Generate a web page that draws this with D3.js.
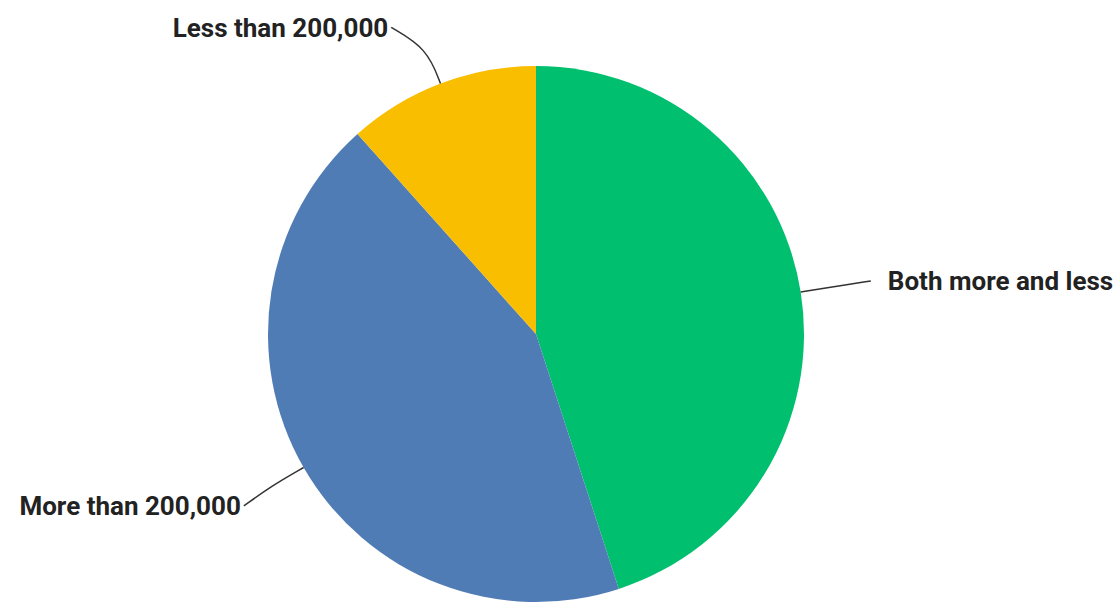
<!DOCTYPE html>
<html><head><meta charset="utf-8">
<script src="https://cdn.jsdelivr.net/npm/d3@7"></script>
<style>html,body{margin:0;padding:0;background:#fff;} svg{display:block;}</style>
</head><body>
<svg id="chart" width="1119" height="604"></svg>
<script>
const categories = ["Both more and less", "More than 200,000", "Less than 200,000"];
const values = [45.0, 43.4, 11.6];
const colors = ["#00BF6F", "#507CB6", "#F9BE00"];

const W = 1119, H = 604;
const cx = 536, cy = 334, R = 268;
const labelAngleNudge = [0, -0.6 * Math.PI / 180, -4.4 * Math.PI / 180];

const svg = d3.select("#chart");
const g = svg.append("g").attr("transform", `translate(${cx},${cy})`);

const pie = d3.pie().sort(null).value(d => d.v);
const arcs = pie(categories.map((c, i) => ({ c, v: values[i], i })));
const arc = d3.arc().innerRadius(0).outerRadius(R);

g.selectAll("path.slice").data(arcs).join("path")
  .attr("class", "slice")
  .attr("d", arc)
  .attr("fill", d => colors[d.data.i]);

const polar = (a, r) => [Math.sin(a) * r, -Math.cos(a) * r];
const line = d3.line().curve(d3.curveBasis);

arcs.forEach((d, k) => {
  const mid = (d.startAngle + d.endAngle) / 2;
  const endA = mid + labelAngleNudge[k];
  const p0 = polar(mid, R);
  const p1 = polar(mid, R * 1.14);
  const p2 = polar(endA, R * 1.265);
  g.append("path")
    .attr("d", line([p0, p1, p2]))
    .attr("fill", "none")
    .attr("stroke", "#333")
    .attr("stroke-width", 1.5);
  const right = Math.sin(endA) > 0;
  g.append("text")
    .attr("x", p2[0] + (right ? 17 : -3))
    .attr("y", p2[1])
    .attr("dy", "0.35em")
    .attr("text-anchor", right ? "start" : "end")
    .attr("font-family", "Roboto, sans-serif")
    .attr("font-weight", 700)
    .attr("font-size", 26)
    .attr("fill", "#222")
    .text(d.data.c);
});
</script>
</body></html>
